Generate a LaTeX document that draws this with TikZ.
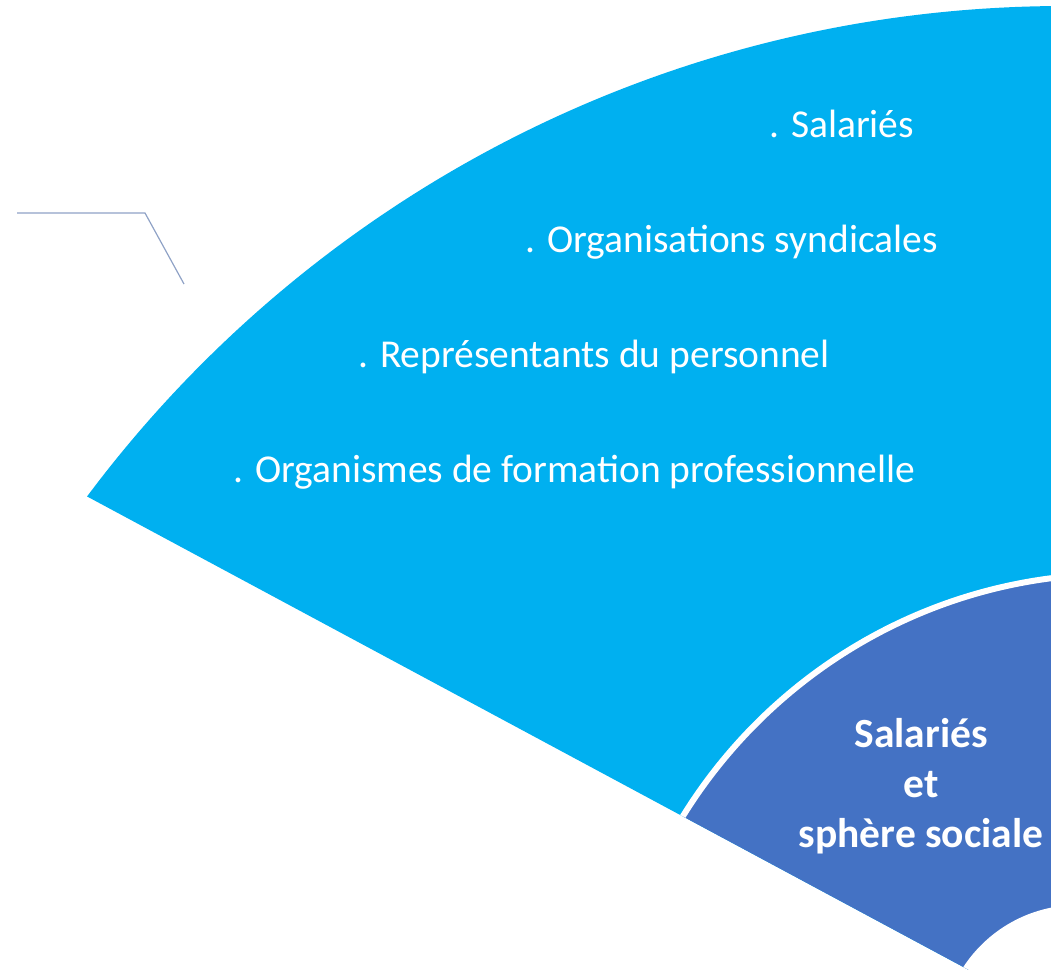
\documentclass[tikz,border=0pt]{standalone}
\usepackage{fontspec}
\setmainfont{Carlito}
\definecolor{lightblue}{HTML}{00B0F0}
\definecolor{darkblue}{HTML}{4472C4}
\definecolor{greyline}{HTML}{8FA2C6}
\begin{document}
\begin{tikzpicture}[x=1pt,y=-1pt,
  item/.style={anchor=base west, text=white, inner sep=0pt, font=\fontsize{39.5}{47}\selectfont},
  hub/.style={anchor=center, text=white, inner sep=0pt, align=center, font=\bfseries\fontsize{41.5}{50}\selectfont},
  leader/.style={draw=greyline, line width=1.2pt}]
\useasboundingbox (0,0) rectangle (1051,969);
\begin{scope}
  \clip (0,0) rectangle (1051,969);
  \clip (0,449.7) -- (1400,1201.5) -- (1400,-100) -- (0,-100) -- cycle;
  \fill[lightblue] (1065,1226) circle[radius=1220pt];
  \fill[darkblue, draw=white, line width=6pt] (1117,1084) circle[radius=510pt];
  \fill[white] (1078,1042) circle[radius=137pt];
\end{scope}
\coordinate (g1) at (17,213);
\coordinate (g2) at (145,213);
\coordinate (g3) at (184,284);
\draw[leader] (g1) -- (g2) -- (g3);
\node[item] (t1) at (769,137) {. Salariés};
\node[item] (t2) at (525,252) {. Organisations syndicales};
\node[item] (t3) at (358,367) {. Représentants du personnel};
\node[item] (t4) at (233,482) {. Organismes de formation professionnelle};
\node[hub] (hub) at (921,786) {Salariés\\et\\sphère sociale};
\end{tikzpicture}
\end{document}
